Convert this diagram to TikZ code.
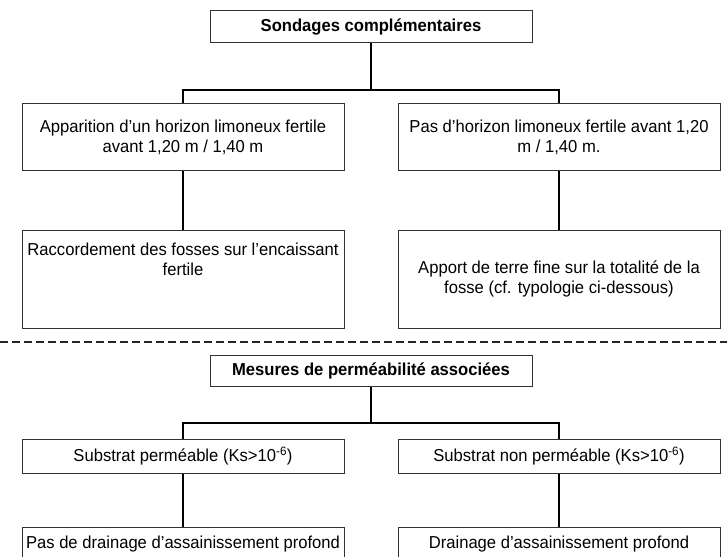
\documentclass[tikz,border=0pt]{standalone}
\usepackage{fontspec}
\setmainfont{Liberation Sans}[FakeStretch=0.96]
\usetikzlibrary{positioning}
\newcommand{\fs}{\fontsize{17.3}{20}\selectfont}

\begin{document}
\begin{tikzpicture}[x=1pt,y=-1pt,
  box/.style={draw=black!80,line width=1pt,minimum width=322pt,inner sep=0pt,align=center,font=\fs},
  boxtext/.style={inner sep=0pt,align=center,font=\fs},
  link/.style={line width=2.8pt,draw=black},
  sep/.style={line width=1.8pt,draw=black!85,dash pattern=on 8pt off 4pt}]
\clip (0,0) rectangle (727,556);
% partie haute : sondages
\node[box,minimum height=32pt,font=\fs\bfseries] (sond) at (371,27) {Sondages complémentaires};
\node[box,minimum height=66pt] (appar) at (183,137) {Apparition d’un horizon limoneux fertile\\avant 1,20 m / 1,40 m};
\node[box,minimum height=66pt] (pasho) at (559,137) {Pas d’horizon limoneux fertile avant 1,20\\m / 1,40 m.};
\node[box,minimum height=98pt] (racc) at (183,279) {};
\node[boxtext,below=13pt of racc.north] (racctxt) {Raccordement des fosses sur l’encaissant\\fertile};
\node[box,minimum height=98pt] (apport) at (559,279) {Apport de terre fine sur la totalité de la\\fosse (cf. typologie ci-dessous)};
\coordinate (bar1) at (371,90);
\draw[link] (sond) -- (bar1) -| (appar);
\draw[link] (bar1) -| (pasho);
\draw[link] (appar) -- (racc);
\draw[link] (pasho) -- (apport);
% separation
\coordinate (sepl) at (0,342);
\coordinate (sepr) at (727,342);
\draw[sep] (sepl) -- (sepr);
% partie basse : permeabilite
\node[box,minimum height=31pt,font=\fs\bfseries] (mesur) at (371,370.5) {Mesures de perméabilité associées};
\node[box,minimum height=34pt] (perm) at (183,456) {Substrat perméable (Ks>10\textsuperscript{-6})};
\node[box,minimum height=34pt] (nperm) at (559,456) {Substrat non perméable (Ks>10\textsuperscript{-6})};
\node[box,minimum height=34pt] (pasdr) at (183,544) {Pas de drainage d’assainissement profond};
\node[box,minimum height=34pt] (drain) at (559,544) {Drainage d’assainissement profond};
\coordinate (bar2) at (371,423);
\draw[link] (mesur) -- (bar2) -| (perm);
\draw[link] (bar2) -| (nperm);
\draw[link] (perm) -- (pasdr);
\draw[link] (nperm) -- (drain);
\end{tikzpicture}
\end{document}
